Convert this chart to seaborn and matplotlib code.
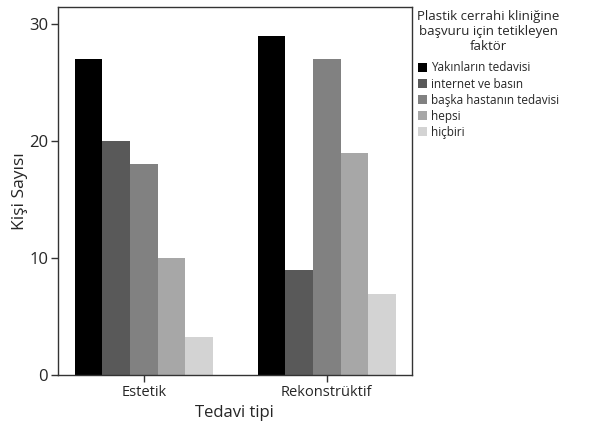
import matplotlib
matplotlib.use("Agg")
import matplotlib.pyplot as plt
import seaborn as sns
import pandas as pd

# data
categories = ["Estetik", "Rekonstrüktif"]
factors = ["Yakınların tedavisi", "internet ve basın", "başka hastanın tedavisi",
           "hepsi", "hiçbiri"]
estetik = [27, 20, 18, 10, 3.2]
rekonstruktif = [29, 9, 27, 19, 6.9]
colors = ["#000000", "#595959", "#818181", "#a7a7a7", "#d3d3d3"]

df = pd.DataFrame({
    "Tedavi tipi": [categories[0]] * len(factors) + [categories[1]] * len(factors),
    "faktor": factors + factors,
    "Kişi Sayısı": estetik + rekonstruktif,
})

sns.set_theme(style="white")
plt.rcParams["font.family"] = ["Open Sans", "DejaVu Sans"]

fig = plt.figure(figsize=(5.9, 4.24), dpi=100)
ax = fig.add_axes([0.098, 0.116, 0.600, 0.867])

sns.barplot(data=df, x="Tedavi tipi", y="Kişi Sayısı", hue="faktor",
            hue_order=factors, palette=colors, width=0.754, gap=0,
            saturation=1, edgecolor="none", linewidth=0, ax=ax, legend=False)

ax.set_xlim(-0.47, 1.465)
ax.set_ylim(0, 31.45)
ax.set_yticks([0, 10, 20, 30])
ax.tick_params(axis="both", direction="out", length=5, width=1, color="#333333",
               left=True, bottom=True, pad=2)
ax.tick_params(axis="y", labelsize=12)
ax.tick_params(axis="x", labelsize=10.5)
ax.set_xlabel("Tedavi tipi", fontsize=12, labelpad=4)
ax.set_ylabel("Kişi Sayısı", fontsize=12.5, labelpad=1)
for sp in ax.spines.values():
    sp.set_visible(True)
    sp.set_color("#333333")
    sp.set_linewidth(1)

# legend
handles = [plt.Rectangle((0, 0), 1, 1, facecolor=c, edgecolor="none") for c in colors]
leg = fig.legend(handles, factors, loc="upper left", bbox_to_anchor=(0.703, 0.982),
                 title="Plastik cerrahi kliniğine\nbaşvuru için tetikleyen\nfaktör",
                 frameon=False, fontsize=8.5, title_fontsize=9.5,
                 handlelength=0.8, handleheight=0.8, handletextpad=0.3,
                 labelspacing=0.27, borderaxespad=0, borderpad=0.2)
leg.get_title().set_multialignment("center")
leg.get_title().set_linespacing(1.2)
leg._legend_box.align = "center"
leg._legend_box.sep = 6

fig.savefig("out.png", dpi=100)
